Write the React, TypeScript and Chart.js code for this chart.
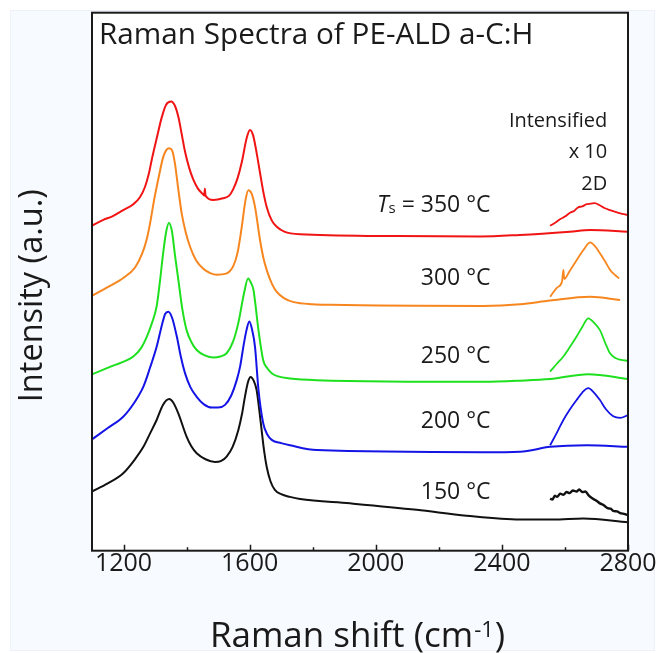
import React, { useEffect, useRef } from "react";
import { Chart, registerables } from "chart.js";

Chart.register(...registerables);

type Pt = [number, number];

const FONT = '"Open Sans", "DejaVu Sans", sans-serif';

// Raman shift (cm^-1), offset intensity (a.u.) for each deposition temperature
const spectrum350: Pt[] = [
  [1100, 60.4], [1136, 61.5], [1163, 62.1], [1199, 63.3], [1231, 64.4], [1252, 65.7],
  [1268, 67.6], [1280, 70.0], [1290, 72.8], [1305, 76.6], [1321, 80.5], [1335, 82.9],
  [1351, 83.5], [1363, 82.7], [1374, 80.6], [1384, 77.6], [1395, 74.2], [1408, 71.2],
  [1421, 69.0], [1436, 67.3], [1453, 66.2], [1456, 66.0], [1458, 67.3], [1460, 66.0],
  [1485, 65.2], [1515, 65.5], [1535, 66.0], [1548, 67.2], [1562, 69.3], [1575, 72.2],
  [1591, 76.8], [1601, 78.2], [1611, 77.2], [1622, 74.0], [1633, 70.2], [1644, 66.5],
  [1654, 63.9], [1670, 61.4], [1686, 60.2], [1710, 59.3], [1760, 58.8], [2024, 58.5],
  [2331, 58.4], [2457, 58.7], [2616, 59.3], [2680, 59.6], [2800, 59.3],
];
const spectrum350x10: Pt[] = [
  [2553, 60.4], [2570, 61.0], [2584, 61.6], [2600, 62.1], [2616, 62.8], [2630, 63.2],
  [2641, 63.8], [2655, 64.0], [2669, 64.4], [2682, 64.5], [2695, 64.6], [2710, 64.2],
  [2725, 63.7], [2743, 63.3], [2770, 62.8], [2800, 62.4],
];

const spectrum300: Pt[] = [
  [1100, 47.4], [1150, 49.0], [1199, 50.7], [1236, 52.6], [1259, 55.2], [1274, 58.0],
  [1284, 60.8], [1297, 65.2], [1310, 69.0], [1326, 73.2], [1336, 74.5], [1345, 74.8],
  [1354, 74.4], [1363, 72.0], [1373, 67.5], [1385, 62.5], [1398, 59.0], [1411, 56.5],
  [1430, 54.0], [1453, 52.4], [1475, 51.6], [1496, 51.3], [1525, 51.5], [1548, 52.9],
  [1562, 55.5], [1575, 60.2], [1587, 65.2], [1596, 67.0], [1606, 66.4], [1617, 63.9],
  [1633, 57.7], [1644, 54.3], [1654, 52.2], [1670, 49.7], [1686, 48.1], [1710, 46.9],
  [1740, 46.2], [1800, 45.8], [1855, 45.7], [2341, 45.5], [2458, 45.8], [2553, 46.5],
  [2680, 47.2], [2775, 46.6],
];
const spectrum300x10: Pt[] = [
  [2553, 47.2], [2575, 48.9], [2591, 50.1], [2595, 52.2], [2598, 50.5], [2615, 52.0],
  [2637, 54.0], [2660, 56.0], [2680, 57.3], [2695, 56.6], [2711, 55.3], [2728, 53.7],
  [2743, 52.2], [2760, 51.2], [2772, 50.6],
];

const spectrum250: Pt[] = [
  [1100, 32.8], [1163, 34.3], [1231, 36.1], [1255, 37.6], [1274, 39.8], [1290, 42.3],
  [1305, 45.4], [1316, 50.3], [1325, 55.0], [1335, 59.2], [1344, 60.9], [1354, 59.2],
  [1363, 55.0], [1374, 50.3], [1386, 45.1], [1400, 41.0], [1415, 38.8], [1432, 37.3],
  [1458, 36.3], [1485, 35.9], [1507, 36.1], [1527, 36.7], [1547, 38.8], [1564, 42.3],
  [1582, 47.8], [1595, 50.6], [1604, 49.8], [1612, 48.5], [1628, 41.0], [1643, 35.4],
  [1656, 33.9], [1670, 33.0], [1690, 32.4], [1728, 32.0], [1813, 31.7], [2341, 31.4],
  [2458, 31.6], [2553, 31.9], [2674, 32.8], [2800, 31.9],
];
const spectrum250x10: Pt[] = [
  [2553, 33.3], [2575, 34.8], [2595, 36.1], [2615, 37.8], [2637, 39.8], [2655, 41.6],
  [2674, 43.2], [2692, 42.4], [2711, 41.0], [2728, 38.6], [2743, 36.7], [2760, 35.8],
  [2775, 35.5], [2800, 35.3],
];

const spectrum200: Pt[] = [
  [1100, 20.7], [1150, 22.8], [1199, 24.9], [1235, 27.6], [1263, 30.5], [1284, 34.0],
  [1305, 37.9], [1322, 42.0], [1332, 44.0], [1342, 44.4], [1354, 43.3], [1369, 39.8],
  [1382, 36.0], [1395, 33.0], [1412, 30.4], [1432, 28.6], [1455, 27.2], [1480, 26.6],
  [1500, 26.6], [1522, 27.1], [1542, 28.9], [1559, 31.7], [1570, 34.3], [1580, 37.9],
  [1590, 41.0], [1599, 42.6], [1608, 41.0], [1617, 37.9], [1628, 29.9], [1643, 23.7],
  [1656, 21.6], [1670, 20.6], [1700, 20.0], [1728, 19.6], [1813, 18.7], [2341, 18.3],
  [2458, 18.4], [2553, 19.3], [2669, 19.6], [2800, 19.3],
];
const spectrum200x10: Pt[] = [
  [2553, 19.6], [2575, 22.0], [2595, 24.3], [2615, 26.2], [2637, 28.0], [2655, 29.4],
  [2674, 30.2], [2692, 29.4], [2711, 28.0], [2730, 26.3], [2753, 25.0], [2775, 24.7],
  [2800, 25.2],
];

const spectrum150: Pt[] = [
  [1100, 11.0], [1150, 12.5], [1199, 14.4], [1235, 16.9], [1263, 19.3], [1285, 21.9],
  [1305, 24.3], [1325, 27.1], [1345, 28.2], [1357, 27.6], [1374, 25.5], [1400, 21.2],
  [1415, 19.4], [1432, 18.1], [1460, 17.0], [1490, 16.5], [1510, 16.7], [1527, 17.5],
  [1546, 19.3], [1564, 22.4], [1576, 25.5], [1585, 28.6], [1595, 31.4], [1603, 32.3],
  [1612, 31.7], [1622, 29.9], [1630, 26.4], [1638, 22.4], [1646, 18.5], [1654, 15.6],
  [1666, 12.9], [1680, 11.3], [1700, 10.5], [1728, 10.0], [1760, 9.6], [1918, 8.8],
  [2130, 7.6], [2288, 6.5], [2458, 5.8], [2563, 5.8], [2658, 6.0], [2800, 5.3],
];
const spectrum150x10: Pt[] = [
  [2553, 9.7], [2560, 9.5], [2568, 10.2], [2575, 10.0], [2585, 10.6], [2595, 10.4],
  [2605, 10.9], [2615, 10.7], [2625, 11.2], [2637, 11.0], [2645, 11.4], [2655, 10.9],
  [2665, 11.0], [2675, 10.3], [2690, 9.6], [2700, 9.3], [2711, 8.8], [2722, 8.5],
  [2735, 7.9], [2745, 7.8], [2753, 7.4], [2765, 7.3], [2775, 7.0], [2790, 6.8],
  [2800, 6.6],
];

const temperatures = ["350 °C", "300 °C", "250 °C", "200 °C", "150 °C"];
const majorTicks = [1200, 1600, 2000, 2400, 2800];
const minorTicks = [1400, 1800, 2200, 2600];

const traces = [
  { main: spectrum350, boosted: spectrum350x10, color: "#f01414" },
  { main: spectrum300, boosted: spectrum300x10, color: "#f7861f" },
  { main: spectrum250, boosted: spectrum250x10, color: "#1ee01e" },
  { main: spectrum200, boosted: spectrum200x10, color: "#1414e6" },
  { main: spectrum150, boosted: spectrum150x10, color: "#111111" },
];

// where each temperature label sits (right edge in cm^-1, baseline in a.u.)
const labelRight = 2364;
const labelBase = [63.0, 49.4, 34.9, 22.8, 9.7];
const noteRight = 2734;
const noteBase = [78.8, 72.9, 67.0];
const noteLines = ["Intensified", "x 10", "2D"];

const W = 658;
const H = 653;

const decorations = {
  id: "decorations",
  beforeDraw(chart: Chart) {
    const { ctx, chartArea: a } = chart;
    ctx.save();
    ctx.fillStyle = "#ffffff";
    ctx.fillRect(0, 0, W, H);
    ctx.fillStyle = "#f7faff";
    ctx.fillRect(10, 10, W - 13, H - 12);
    ctx.strokeStyle = "#edf2fa";
    ctx.lineWidth = 1;
    ctx.strokeRect(10.5, 10.5, W - 14, H - 13);
    ctx.fillStyle = "#ffffff";
    ctx.fillRect(a.left, a.top, a.right - a.left, a.bottom - a.top);
    ctx.restore();
  },
  afterDatasetsDraw(chart: Chart) {
    const { ctx, chartArea: a, scales } = chart;
    const xs = scales.x;
    const ys = scales.y;
    ctx.save();
    // frame
    ctx.strokeStyle = "#1a1a1a";
    ctx.lineWidth = 2;
    ctx.strokeRect(a.left, a.top, a.right - a.left, a.bottom - a.top);
    // inward tick marks
    ctx.lineWidth = 1.5;
    ctx.beginPath();
    for (const v of majorTicks) {
      const px = Math.round(xs.getPixelForValue(v)) + 0.5;
      ctx.moveTo(px, a.bottom);
      ctx.lineTo(px, a.bottom - 6);
    }
    for (const v of minorTicks) {
      const px = Math.round(xs.getPixelForValue(v)) + 0.5;
      ctx.moveTo(px, a.bottom);
      ctx.lineTo(px, a.bottom - 3.5);
    }
    ctx.stroke();

    ctx.fillStyle = "#1a1a1a";
    ctx.textBaseline = "alphabetic";

    // heading inside the frame
    ctx.textAlign = "left";
    ctx.font = `29.7px ${FONT}`;
    ctx.fillText("Raman Spectra of PE-ALD a-C:H", a.left + 7, a.top + 31);

    // temperature labels
    const xr = xs.getPixelForValue(labelRight);
    temperatures.forEach((t, i) => {
      const yb = ys.getPixelForValue(labelBase[i]);
      ctx.font = `23px ${FONT}`;
      if (i === 0) {
        const rest = " = " + t;
        const wRest = ctx.measureText(rest).width;
        ctx.font = `15px ${FONT}`;
        const wS = ctx.measureText("s").width;
        ctx.font = `italic 23px ${FONT}`;
        const wT = ctx.measureText("T").width;
        let x = xr - wRest - wS - wT;
        ctx.textAlign = "left";
        ctx.fillText("T", x, yb);
        x += wT;
        ctx.font = `15px ${FONT}`;
        ctx.fillText("s", x, yb + 1);
        x += wS;
        ctx.font = `23px ${FONT}`;
        ctx.fillText(rest, x, yb);
      } else {
        ctx.textAlign = "right";
        ctx.fillText(t, xr, yb);
      }
    });

    // 2D band note
    ctx.textAlign = "right";
    ctx.font = `20px ${FONT}`;
    const nx = xs.getPixelForValue(noteRight);
    noteLines.forEach((s, i) => {
      ctx.fillText(s, nx, ys.getPixelForValue(noteBase[i]));
    });

    // y axis title
    ctx.save();
    ctx.translate(42, (a.top + a.bottom) / 2 + 14);
    ctx.rotate(-Math.PI / 2);
    ctx.textAlign = "center";
    ctx.font = `32.5px ${FONT}`;
    ctx.fillText("Intensity (a.u.)", 0, 0);
    ctx.restore();

    // x axis title with superscript
    const main = "Raman shift (cm";
    const sup = "-1";
    const close = ")";
    ctx.font = `35px ${FONT}`;
    const wMain = ctx.measureText(main).width;
    const wClose = ctx.measureText(close).width;
    ctx.font = `22px ${FONT}`;
    const wSup = ctx.measureText(sup).width;
    const total = wMain + wSup + wClose + 2;
    let x = 357.5 - total / 2;
    const base = 646.5;
    ctx.textAlign = "left";
    ctx.font = `35px ${FONT}`;
    ctx.fillText(main, x, base);
    x += wMain + 1;
    ctx.font = `22px ${FONT}`;
    ctx.fillText(sup, x, base - 9.5);
    x += wSup + 1;
    ctx.font = `35px ${FONT}`;
    ctx.fillText(close, x, base);

    ctx.restore();
  },
};

export default function App() {
  const ref = useRef<HTMLCanvasElement | null>(null);

  useEffect(() => {
    if (!ref.current) return;
    const datasets: any[] = [];
    traces.forEach((t, i) => {
      datasets.push({
        data: t.main.map(([x, y]) => ({ x, y })),
        borderColor: t.color,
        borderWidth: 2,
        pointRadius: 0,
        fill: false,
        cubicInterpolationMode: "monotone",
      });
      datasets.push({
        data: t.boosted.map(([x, y]) => ({ x, y })),
        borderColor: t.color,
        borderWidth: i === 4 ? 2.4 : 1.8,
        pointRadius: 0,
        fill: false,
        cubicInterpolationMode: "monotone",
      });
    });

    const chart = new Chart(ref.current, {
      type: "line",
      data: { datasets },
      plugins: [decorations],
      options: {
        responsive: false,
        animation: false,
        devicePixelRatio: 1,
        layout: { padding: { left: 92, right: 30, top: 12.7, bottom: 0 } },
        plugins: {
          legend: { display: false },
          tooltip: { enabled: false },
        },
        scales: {
          x: {
            type: "linear",
            min: 1100,
            max: 2800,
            grid: { display: false, drawTicks: false },
            border: { display: false },
            afterBuildTicks: (scale: any) => {
              scale.ticks = majorTicks.map((v) => ({ value: v }));
            },
            afterFit: (scale: any) => {
              scale.height = 102.3;
            },
            ticks: {
              padding: -1.5,
              color: "#1a1a1a",
              font: { family: FONT, size: 25 },
              maxRotation: 0,
              autoSkip: false,
              callback: (v: any) => String(v),
            },
          },
          y: {
            type: "linear",
            display: false,
            min: 0,
            max: 100,
          },
        },
      },
    });
    return () => chart.destroy();
  }, []);

  return (
    <div style={{ position: "fixed", left: 0, top: 0, width: W, height: H }}>
      <canvas ref={ref} width={W} height={H} style={{ width: W, height: H, display: "block" }} />
    </div>
  );
}
